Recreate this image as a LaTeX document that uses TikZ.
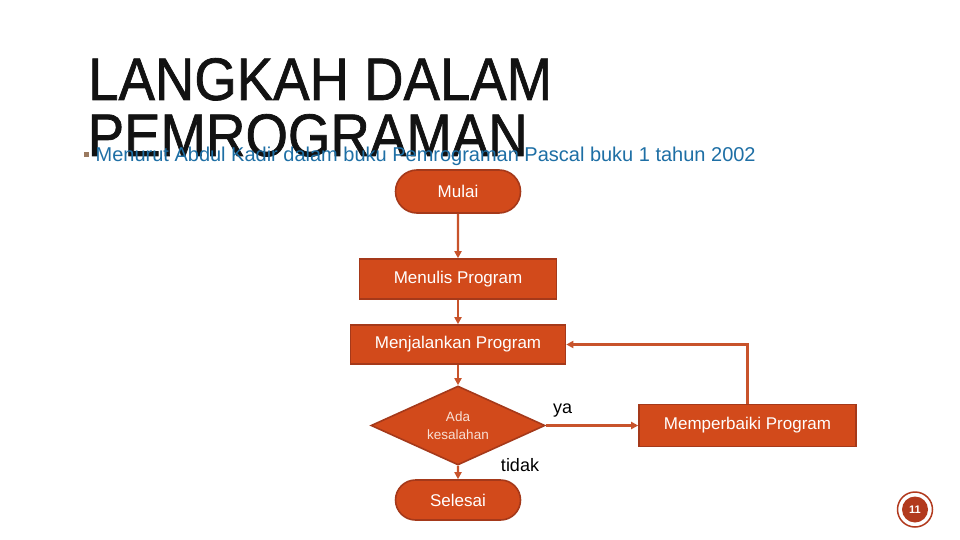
\documentclass[tikz,border=0pt]{standalone}
\usepackage{fontspec}
\setmainfont{Liberation Sans}
\newfontfamily\titlefont[FakeBold=1.2]{Liberation Sans}
\usepackage{graphicx}
\usetikzlibrary{shapes.geometric,shapes.misc,arrows.meta}
\definecolor{boxfill}{HTML}{D24A1B}
\definecolor{boxline}{HTML}{A5391A}
\definecolor{linec}{HTML}{C8532B}
\definecolor{subblue}{HTML}{1E6FA5}
\definecolor{pgred}{HTML}{B23A1E}
\definecolor{bulletc}{HTML}{9A7A60}
\definecolor{dtext}{HTML}{F8E0D5}
\begin{document}
\begin{tikzpicture}[x=1pt,y=-1pt,
  flow/.style={draw=boxline, line width=1.6pt, fill=boxfill, text=white, font=\fontsize{17}{20}\selectfont, inner sep=0pt},
  proc/.style={flow, rectangle},
  term/.style={flow, rounded rectangle},
  conn/.style={draw=linec, line width=2.2pt, -{Triangle[length=7pt,width=7pt]}},
  lbl/.style={font=\fontsize{18}{20}\selectfont, text=black, inner sep=0pt}]
\useasboundingbox (0,0) rectangle (960,540);
\fill[white] (0,0) rectangle (960,540);
% title
\node[anchor=base west, inner sep=0pt, text=black!93] (t1) at (88,100) {\resizebox{464pt}{\height}{\fontsize{60}{60}\titlefont LANGKAH DALAM}};
\node[anchor=base west, inner sep=0pt, text=black!93] (t2) at (87.5,156) {\resizebox{440pt}{\height}{\fontsize{60}{60}\titlefont PEMROGRAMAN}};
% subtitle
\node[fill=bulletc, minimum size=5pt, inner sep=0pt] (bul) at (86,155) {};
\node[anchor=base west, inner sep=0pt, text=subblue] (sub) at (95.5,162) {\resizebox{660pt}{\height}{\fontsize{20}{20}\selectfont Menurut Abdul Kadir dalam buku Pemrograman Pascal buku 1 tahun 2002}};
% flow nodes
\node[term, minimum width=125pt, minimum height=43pt] (mulai) at (458,191.5) {Mulai};
\node[proc, minimum width=197pt, minimum height=40pt] (menulis) at (458,279) {Menulis Program};
\node[proc, minimum width=215pt, minimum height=39pt] (menjal) at (458,344.5) {Menjalankan Program};
\node[flow, diamond, aspect=2.2, minimum width=174pt, minimum height=79pt, text=dtext, align=center, font=\fontsize{13.5}{18}\selectfont] (ada) at (458,425.5) {Ada\\kesalahan};
\node[proc, minimum width=217pt, minimum height=42pt] (perbaiki) at (747.5,425.5) {Memperbaiki Program};
\node[term, minimum width=125pt, minimum height=40pt] (selesai) at (458,500) {Selesai};
% connectors
\draw[conn] (mulai) -- (menulis);
\draw[conn] (menulis) -- (menjal);
\draw[conn] (menjal) -- (ada);
\draw[conn] (ada) -- (perbaiki);
\draw[conn] (perbaiki.north) |- (menjal.east);
\draw[conn] (ada) -- (selesai);
% labels
\node[lbl, anchor=base] (ya) at (562.5,413) {ya};
\node[lbl, anchor=base] (tidak) at (520,471.5) {tidak};
% page number
\node[circle, draw=pgred, line width=1.5pt, minimum size=35pt, inner sep=0pt] (pgo) at (915,509.5) {};
\node[circle, fill=pgred, minimum size=26pt, inner sep=0pt, text=white, font=\fontsize{11}{11}\selectfont\bfseries] (pg) at (915,509.5) {11};
\end{tikzpicture}
\end{document}
